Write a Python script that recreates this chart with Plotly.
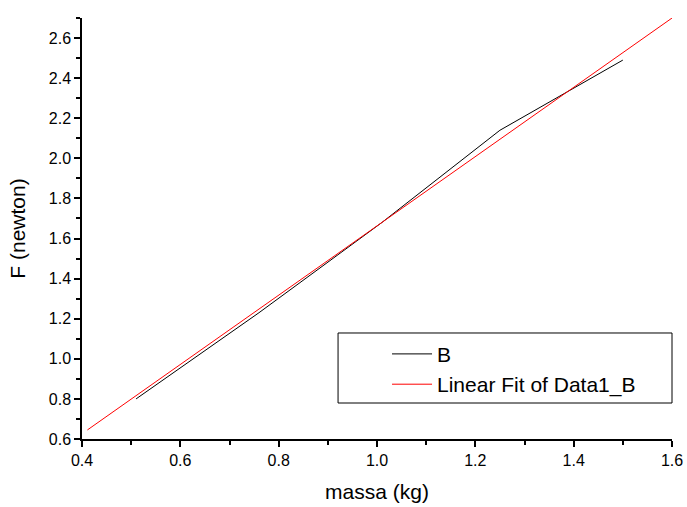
import plotly.graph_objects as go

# Data
massa = [0.51, 0.76, 1.01, 1.25, 1.50]
forca = [0.80, 1.23, 1.68, 2.14, 2.49]
fit_x = [0.411, 1.60]
fit_slope = 1.728
fit_intercept = -0.065
fit_y = [fit_slope * v + fit_intercept for v in fit_x]

x_ticks = [0.4, 0.6, 0.8, 1.0, 1.2, 1.4, 1.6]
y_ticks = [0.6, 0.8, 1.0, 1.2, 1.4, 1.6, 1.8, 2.0, 2.2, 2.4, 2.6]

FONT = "Liberation Sans, Arial, sans-serif"

fig = go.Figure()
fig.add_trace(go.Scatter(x=massa, y=forca, mode="lines", name="B",
                         line=dict(color="black", width=1)))
fig.add_trace(go.Scatter(x=fit_x, y=fit_y, mode="lines", name="Linear Fit of Data1_B",
                         line=dict(color="red", width=1)))

axis_common = dict(showgrid=False, zeroline=False, showline=True, linecolor="black",
                   linewidth=1.5, ticks="outside", ticklen=6, tickwidth=1.5, tickcolor="black",
                   tickfont=dict(family=FONT, size=16, color="black"), mirror=False,
                   automargin=False)

fig.update_xaxes(range=[0.4, 1.6], tickvals=x_ticks, ticktext=[f"{v:.1f}" for v in x_ticks],
                 title=dict(text="massa (kg)", font=dict(family=FONT, size=21, color="black"), standoff=16),
                 minor=dict(ticks="outside", ticklen=4, tickwidth=1.5, tickcolor="black", dtick=0.1, tick0=0.4),
                 **axis_common)
fig.update_yaxes(range=[0.6, 2.7], tickvals=y_ticks, ticktext=[f"{v:.1f}" for v in y_ticks],
                 title=dict(text="F (newton)", font=dict(family=FONT, size=21, color="black"), standoff=17),
                 minor=dict(ticks="outside", ticklen=4, tickwidth=1.5, tickcolor="black", dtick=0.1, tick0=0.6),
                 **axis_common)

fig.add_shape(type="rect", xref="paper", yref="paper", x0=0.434, x1=1.0, y0=0.0855, y1=0.2518,
              line=dict(color="black", width=1), fillcolor="rgba(0,0,0,0)")

fig.update_layout(
    width=687, height=507,
    margin=dict(l=82, r=15, t=18, b=68),
    plot_bgcolor="white", paper_bgcolor="white",
    showlegend=True,
    legend=dict(x=0.517, y=0.25, xanchor="left", yanchor="top",
                bgcolor="rgba(0,0,0,0)", borderwidth=0,
                font=dict(family=FONT, size=21, color="black"),
                tracegroupgap=0, itemwidth=40),
)

fig.write_html("out.html")
